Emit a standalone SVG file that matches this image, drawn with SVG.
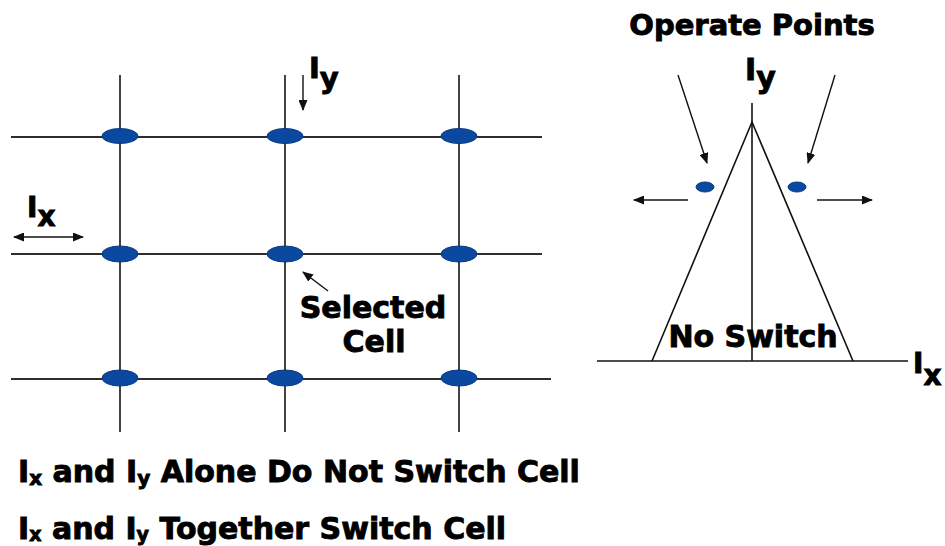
<svg xmlns="http://www.w3.org/2000/svg" width="945" height="546" viewBox="0 0 945 546">
  <style>
    .grid { stroke: #2e2e2e; stroke-width: 1.8; fill: none; }
    .ax { stroke: #111; stroke-width: 1.6; fill: none; }
    .arr { stroke: #111; stroke-width: 1.4; fill: none; marker-end: url(#ah); }
    .cell { fill: #0b48a0; stroke: #0a3a82; stroke-width: 1; }
    .lbl { font-family: "DejaVu Sans", "Liberation Sans", sans-serif; font-weight: bold; fill: #000; stroke: #000; stroke-width: 0.9; }
  </style>
  <defs>
    <marker id="ah" markerUnits="userSpaceOnUse" markerWidth="11" markerHeight="9" refX="10" refY="4.5" orient="auto-start-reverse">
      <path d="M0,0 L11,4.5 L0,9 z" fill="#111"/>
    </marker>
  </defs>
  <rect width="945" height="546" fill="#fff"/>

  <g id="grid-lines">
    <line class="grid" x1="11" y1="137" x2="542" y2="137"/>
    <line class="grid" x1="11" y1="254" x2="542" y2="254"/>
    <line class="grid" x1="11" y1="379" x2="551" y2="379"/>
    <line class="grid" x1="120" y1="75" x2="120" y2="432"/>
    <line class="grid" x1="285" y1="75" x2="285" y2="432"/>
    <line class="grid" x1="459" y1="75" x2="459" y2="432"/>
  </g>

  <g id="cell-r1c1"><ellipse class="cell" cx="120" cy="136" rx="18" ry="7.5"/></g>
  <g id="cell-r1c2"><ellipse class="cell" cx="285" cy="136" rx="18" ry="7.5"/></g>
  <g id="cell-r1c3"><ellipse class="cell" cx="459" cy="136" rx="18" ry="7.5"/></g>
  <g id="cell-r2c1"><ellipse class="cell" cx="120" cy="254" rx="18" ry="8"/></g>
  <g id="cell-r2c2"><ellipse class="cell" cx="285" cy="254" rx="18" ry="8"/></g>
  <g id="cell-r2c3"><ellipse class="cell" cx="459" cy="254" rx="18" ry="8"/></g>
  <g id="cell-r3c1"><ellipse class="cell" cx="120" cy="378" rx="18" ry="8"/></g>
  <g id="cell-r3c2"><ellipse class="cell" cx="285" cy="378" rx="18" ry="8"/></g>
  <g id="cell-r3c3"><ellipse class="cell" cx="459" cy="378" rx="18" ry="8"/></g>

  <g id="label-ix-left"><text class="lbl" x="27" y="217" font-size="28">I<tspan dy="9">x</tspan></text></g>
  <g id="label-iy-left"><text class="lbl" x="309" y="78" font-size="29">I<tspan dy="10">y</tspan></text></g>
  <g id="label-selected"><text class="lbl" font-size="30" text-anchor="middle"><tspan x="373" y="318">Selected</tspan><tspan x="374" y="352">Cell</tspan></text></g>

  <g id="chart-axes">
    <line class="ax" x1="597" y1="361" x2="908" y2="361"/>
    <line class="ax" x1="752" y1="103" x2="752" y2="361"/>
    <polyline class="ax" points="652,361 752,122 853,361"/>
  </g>
  <g id="op-left"><ellipse class="cell" cx="705" cy="187" rx="9" ry="5"/></g>
  <g id="op-right"><ellipse class="cell" cx="797" cy="187" rx="9" ry="5"/></g>
  <g id="label-operate"><text class="lbl" x="752" y="35" font-size="29" text-anchor="middle">Operate Points</text></g>
  <g id="label-iy-right"><text class="lbl" x="745" y="80" font-size="30">I<tspan dy="7.5">y</tspan></text></g>
  <g id="label-ix-right"><text class="lbl" x="913" y="373" font-size="28">I<tspan dy="12">x</tspan></text></g>
  <g id="label-noswitch"><text class="lbl" x="753" y="347" font-size="30" text-anchor="middle">No Switch</text></g>

  <g id="connectors">
    <line class="arr" x1="14" y1="237" x2="83" y2="237" style="marker-start:url(#ah)"/>
    <line class="arr" x1="303" y1="75" x2="303" y2="110"/>
    <line class="arr" x1="328" y1="291" x2="303" y2="272"/>
    <line class="arr" x1="678" y1="75" x2="707" y2="163"/>
    <line class="arr" x1="835" y1="75" x2="808" y2="163"/>
    <line class="arr" x1="688" y1="200" x2="634" y2="200"/>
    <line class="arr" x1="817" y1="200" x2="872" y2="200"/>
  </g>

  <g id="caption">
    <text class="lbl" x="18" y="482" font-size="30">I<tspan font-size="20" dy="3">x</tspan><tspan dy="-3"> and I</tspan><tspan font-size="20" dy="3">y</tspan><tspan dy="-3"> Alone Do Not Switch Cell</tspan></text>
    <text class="lbl" x="18" y="539" font-size="30">I<tspan font-size="19" dy="2">x</tspan><tspan dy="-2"> and I</tspan><tspan font-size="19" dy="2">y</tspan><tspan dy="-2"> Together Switch Cell</tspan></text>
  </g>
</svg>
